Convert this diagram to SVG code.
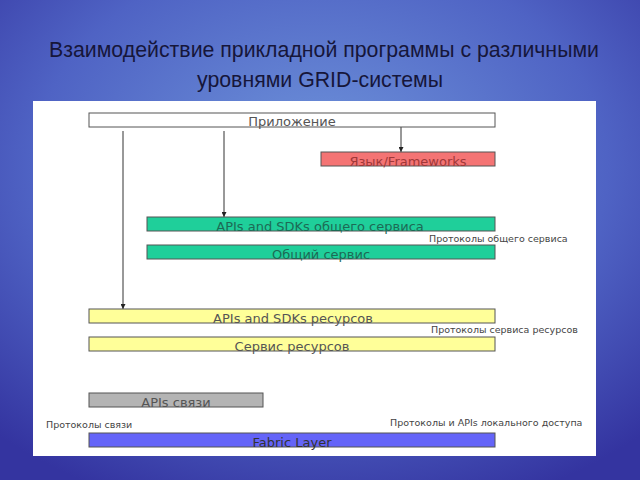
<svg xmlns="http://www.w3.org/2000/svg" width="640" height="480" viewBox="0 0 640 480">
<defs>
<radialGradient id="bg" cx="0.5" cy="0.35" r="0.75">
<stop offset="0" stop-color="#6f95db"/>
<stop offset="0.6" stop-color="#4f63c4"/>
<stop offset="1" stop-color="#3434a0"/>
</radialGradient>
<marker id="ah" viewBox="0 0 10 10" refX="10" refY="5" markerWidth="5" markerHeight="5" orient="auto" markerUnits="userSpaceOnUse">
<path d="M0,0 L10,5 L0,10 z" fill="#222"/>
</marker>
<style>
.box{stroke:#555;stroke-width:1}
.bl{font-family:"DejaVu Sans",Verdana,sans-serif;font-size:13px;text-anchor:middle}
.sl{font-family:"DejaVu Sans",Verdana,sans-serif;font-size:9.5px;fill:#444}
.con{stroke:#333;stroke-width:1;fill:none;marker-end:url(#ah)}
.title{font-family:"Liberation Sans",Arial,sans-serif;font-size:21.3px;fill:#16163a;text-anchor:middle}
</style>
</defs>
<rect x="0" y="0" width="640" height="480" fill="url(#bg)"/>
<text class="title" x="324" y="57">Взаимодействие прикладной программы с различными</text>
<text class="title" x="320" y="87">уровнями GRID-системы</text>
<rect x="33" y="101" width="563" height="355" fill="#ffffff"/>

<g id="connectors">
<line class="con" x1="401" y1="127" x2="401" y2="152"/>
<line class="con" x1="224" y1="131" x2="224" y2="217"/>
<line class="con" x1="123" y1="131" x2="123" y2="309"/>
</g>

<g id="app"><rect class="box" x="89" y="113" width="406" height="14" fill="#ffffff"/><text class="bl" x="292" y="126" fill="#555">Приложение</text></g>
<g id="lang"><rect class="box" x="321" y="152" width="174" height="14" fill="#f47474"/><text class="bl" x="408" y="166" fill="#a03838">Язык/Frameworks</text></g>
<g id="apis-common"><rect class="box" x="147" y="217" width="348" height="14" fill="#1fcf9a"/><text class="bl" x="320" y="231" fill="#1d6a55">APIs and SDKs общего сервиса</text></g>
<g id="common"><rect class="box" x="147" y="245" width="348" height="14" fill="#1fcf9a"/><text class="bl" x="321" y="259" fill="#1d6a55">Общий сервис</text></g>
<text class="sl" x="429" y="242">Протоколы общего сервиса</text>
<g id="apis-res"><rect class="box" x="89" y="309" width="406" height="14" fill="#ffff99"/><text class="bl" x="293" y="323" fill="#555">APIs and SDKs ресурсов</text></g>
<g id="res"><rect class="box" x="89" y="337" width="406" height="14" fill="#ffff99"/><text class="bl" x="292" y="351" fill="#555">Сервис ресурсов</text></g>
<text class="sl" x="431" y="333">Протоколы сервиса ресурсов</text>
<g id="apis-conn"><rect class="box" x="89" y="393" width="174" height="14" fill="#b4b4b4"/><text class="bl" x="176" y="407" fill="#555">APIs связи</text></g>
<text class="sl" x="46" y="428">Протоколы связи</text>
<text class="sl" x="390" y="426">Протоколы и APIs локального доступа</text>
<g id="fabric"><rect class="box" x="89" y="433" width="406" height="14" fill="#6464f8"/><text class="bl" x="292" y="447" fill="#333">Fabric Layer</text></g>
</svg>
